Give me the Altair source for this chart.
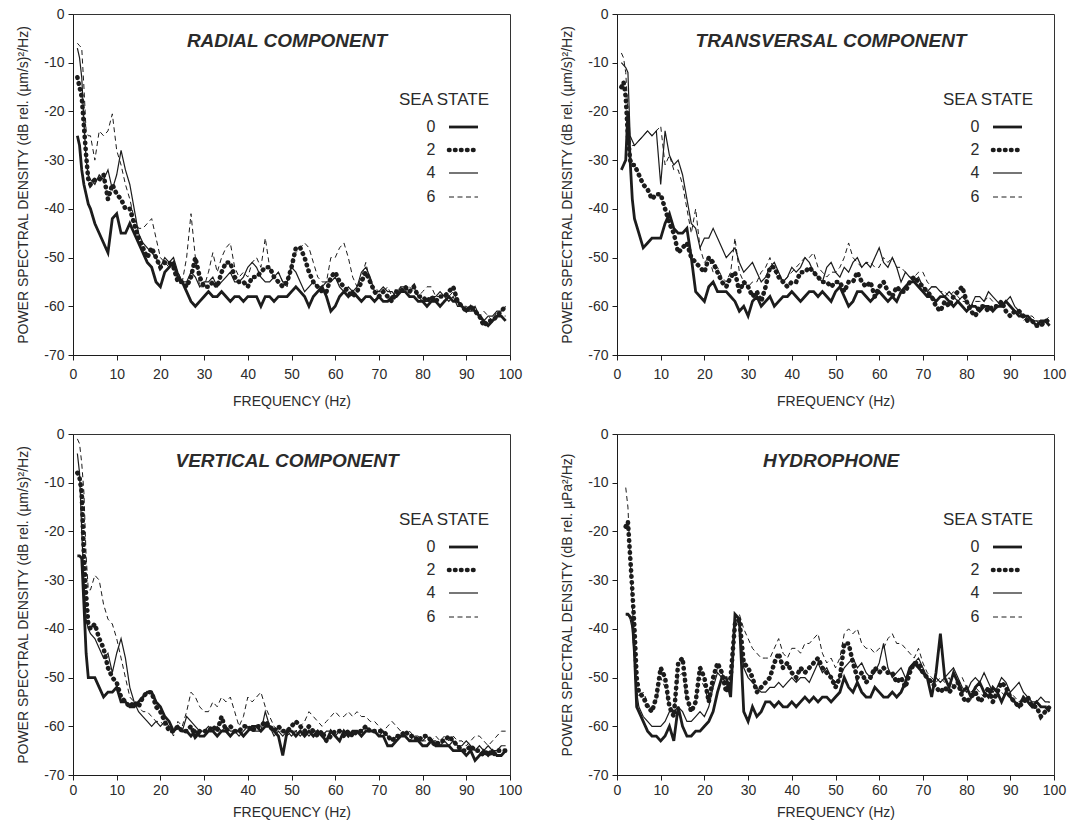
import altair as alt
import pandas as pd

# ---------------------------------------------------------------------------
# Frequency grids (Hz): finer sampling over the steep low-frequency roll-off
# ---------------------------------------------------------------------------
FREQ_GEO = [1, 1.5, 2, 2.5, 3, 3.5] + list(range(4, 100))
FREQ_HYD = [2, 2.5, 3, 3.5, 4, 4.5] + list(range(5, 100))

X_TICKS = [0, 10, 20, 30, 40, 50, 60, 70, 80, 90, 100]
Y_TICKS = [0, -10, -20, -30, -40, -50, -60, -70]
SEA_STATES = ["0", "2", "4", "6"]

# ---------------------------------------------------------------------------
# Power spectral density (dB) per sea state
# ---------------------------------------------------------------------------
RADIAL_0 = [-25, -27, -32, -35, -37, -39,
            -40, -43, -45, -47, -49, -42, -41, -45, -45, -43,
            -45, -47, -49, -51, -52, -55, -56, -53, -52, -51,
            -54, -55, -57, -59, -60, -59, -58, -57, -58, -58,
            -57, -58, -59, -58, -58, -59, -58, -58, -58, -60,
            -58, -58, -59, -58, -58, -58, -57, -56, -57, -58,
            -60, -58, -57, -56, -58, -61, -60, -58, -57, -58,
            -57, -58, -59, -58, -58, -59, -58, -59, -59, -58,
            -58, -57, -57, -58, -58, -59, -59, -60, -59, -59,
            -60, -59, -58, -59, -59, -60, -61, -60, -61, -62,
            -63, -64, -63, -62, -62, -63]
RADIAL_2 = [-13, -15, -17, -23, -29, -34,
            -35, -34, -34, -33, -38, -35, -37, -38, -40, -40,
            -43, -46, -48, -50, -48, -50, -52, -51, -51, -52,
            -55, -55, -56, -54, -50, -54, -56, -56, -55, -56,
            -53, -51, -51, -54, -55, -55, -56, -54, -54, -53,
            -52, -52, -54, -55, -56, -55, -52, -48, -48, -50,
            -53, -55, -56, -57, -57, -54, -53, -55, -56, -57,
            -58, -57, -55, -53, -55, -57, -58, -57, -58, -59,
            -57, -57, -56, -57, -56, -58, -58, -59, -58, -59,
            -58, -58, -57, -56, -59, -60, -61, -60, -61, -62,
            -64, -63, -63, -62, -61, -60]
RADIAL_4 = [-7, -9, -13, -22, -30, -33,
            -34, -35, -33, -34, -32, -36, -33, -28, -32, -35,
            -40, -45, -47, -48, -49, -50, -52, -50, -51, -50,
            -53, -55, -55, -53, -54, -56, -55, -55, -54, -56,
            -55, -54, -53, -55, -55, -54, -52, -51, -52, -54,
            -55, -55, -54, -53, -55, -55, -52, -53, -55, -57,
            -56, -55, -56, -56, -55, -55, -54, -56, -57, -56,
            -57, -56, -53, -52, -54, -57, -57, -56, -57, -57,
            -58, -56, -56, -57, -56, -58, -59, -59, -58, -58,
            -57, -58, -59, -58, -60, -60, -61, -61, -60, -62,
            -63, -62, -62, -61, -61, -60]
RADIAL_6 = [-6, -6.5, -7, -15, -24, -25,
            -25, -30, -24, -25, -24, -20.5, -28, -31, -35, -38,
            -42, -44, -44, -43, -42, -46, -50, -51, -52, -52,
            -53, -55, -50, -41, -50, -56, -56, -53, -49, -53,
            -50, -48, -47, -52, -54, -53, -54, -51, -50, -52,
            -46, -52, -54, -53, -55, -56, -51, -49, -48, -47,
            -48, -51, -54, -55, -55, -50, -50, -48, -47, -50,
            -54, -56, -54, -51, -55, -56, -57, -57, -56, -58,
            -57, -56, -57, -56, -57, -58, -57, -56, -56, -58,
            -58, -59, -58, -57, -59, -60, -60, -61, -61, -62,
            -61, -62, -63, -61, -62, -62]

TRANS_0 = [-32, -31, -30, -20, -30, -38,
           -42, -45, -48, -47, -46, -46, -46, -43, -41, -44,
           -45, -45, -44, -50, -57, -58, -59, -56, -55, -57,
           -57, -57, -58, -59, -61, -60, -62, -59, -58, -60,
           -59, -58, -60, -59, -58, -58, -57, -58, -59, -58,
           -57, -57, -58, -57, -58, -59, -57, -56, -58, -60,
           -59, -57, -57, -58, -59, -58, -57, -58, -59, -58,
           -59, -57, -56, -55, -55, -56, -57, -58, -58, -59,
           -58, -58, -59, -60, -59, -60, -61, -60, -60, -61,
           -60, -60, -61, -60, -60, -59, -60, -61, -62, -62,
           -62, -63, -64, -63, -63, -64]
TRANS_2 = [-15, -14, -17, -25, -30, -31,
           -31, -33, -35, -36, -38, -37, -37, -40, -43, -45,
           -49, -48, -47, -50, -51, -52, -53, -50, -51, -53,
           -55, -56, -54, -53, -57, -55, -56, -58, -57, -59,
           -56, -52, -52, -54, -55, -56, -55, -55, -53, -53,
           -52, -53, -54, -55, -55, -56, -55, -55, -57, -55,
           -55, -53, -55, -56, -55, -58, -56, -55, -57, -58,
           -56, -57, -57, -55, -54, -55, -56, -57, -58, -60,
           -61, -59, -60, -58, -57, -56, -59, -61, -62, -60,
           -60, -61, -60, -60, -59, -61, -62, -61, -61, -62,
           -63, -63, -64, -64, -63, -63]
TRANS_4 = [-10, -10.5, -11, -12, -25, -26,
           -27, -26, -25, -24, -25, -24, -35, -24, -29, -31,
           -30, -33, -38, -43, -44, -48, -46, -46, -44, -46,
           -48, -50, -49, -48, -51, -53, -52, -51, -53, -55,
           -54, -52, -51, -53, -55, -54, -52, -53, -52, -50,
           -51, -53, -54, -55, -52, -51, -53, -54, -52, -53,
           -51, -50, -52, -51, -52, -50, -48, -51, -52, -50,
           -52, -55, -53, -54, -55, -54, -56, -57, -56, -56,
           -57, -58, -57, -58, -59, -58, -59, -60, -58, -58,
           -59, -57, -58, -59, -60, -59, -58, -60, -61, -62,
           -62, -63, -63, -64, -63, -63]
TRANS_6 = [-8, -9, -12, -20, -26, -27,
           -27, -26, -25, -24, -25, -24, -23, -31, -29, -32,
           -32, -35, -40, -45, -40, -48, -51, -50, -53, -52,
           -54, -55, -53, -46, -53, -55, -56, -55, -55, -53,
           -52, -50, -53, -54, -55, -54, -53, -52, -51, -50,
           -50, -49, -52, -53, -54, -53, -53, -52, -50, -47,
           -50, -51, -52, -51, -51, -52, -52, -50, -51, -50,
           -52, -52, -53, -54, -54, -53, -53, -55, -56, -56,
           -57, -57, -58, -57, -58, -59, -59, -60, -59, -59,
           -59, -58, -59, -60, -60, -59, -60, -61, -61, -63,
           -62, -62, -63, -63, -63, -62]

VERT_0 = [-25, -25, -25.5, -35, -45, -50,
          -50, -50, -52, -54, -53, -53, -52, -55, -55, -56,
          -56, -55, -54, -53, -53, -55, -56, -58, -59, -61,
          -60, -61, -61, -62, -61, -62, -62, -61, -61, -62,
          -61, -61, -62, -61, -61, -62, -61, -60, -60, -61,
          -60, -60, -61, -62, -66, -61, -61, -62, -61, -62,
          -61, -62, -61, -62, -63, -61, -62, -63, -61, -62,
          -61, -61, -62, -61, -61, -61, -62, -62, -64, -64,
          -63, -62, -62, -63, -63, -63, -64, -64, -63, -64,
          -64, -64, -64, -65, -65, -65, -66, -65, -67, -66,
          -65, -66, -65, -66, -66, -65]
VERT_2 = [-8, -9, -12, -25, -33, -39,
          -40, -39, -42, -44, -48, -50, -51, -54, -55, -56,
          -55, -56, -54, -53, -53, -56, -57, -59, -61, -61,
          -60, -61, -61, -60, -62, -61, -61, -61, -60, -61,
          -58, -61, -60, -61, -61, -60, -60, -61, -60, -60,
          -59, -60, -61, -60, -61, -61, -60, -59, -60, -61,
          -60, -61, -62, -61, -63, -62, -61, -61, -62, -61,
          -62, -61, -61, -60, -61, -61, -61, -61, -62, -63,
          -62, -62, -61, -62, -62, -63, -62, -62, -63, -64,
          -63, -63, -62, -63, -64, -65, -65, -64, -65, -65,
          -66, -65, -66, -65, -65, -65]
VERT_4 = [-4, -8, -20, -30, -38, -40,
          -41, -42, -44, -46, -45, -49, -45, -42, -46, -52,
          -55, -57, -58, -59, -60, -59, -60, -59, -60, -61,
          -60, -61, -58, -59, -60, -61, -61, -60, -61, -60,
          -61, -60, -61, -61, -62, -61, -60, -61, -61, -61,
          -57, -60, -62, -61, -62, -61, -62, -61, -62, -61,
          -62, -61, -61, -62, -61, -61, -62, -61, -61, -62,
          -61, -61, -61, -60, -61, -61, -62, -61, -62, -63,
          -62, -62, -62, -63, -62, -63, -63, -62, -63, -63,
          -64, -63, -64, -63, -64, -64, -63, -64, -65, -64,
          -65, -64, -65, -65, -64, -64]
VERT_6 = [-1, -2, -6, -12, -25, -32,
          -32, -29, -30, -35, -38, -39, -42, -46, -50, -54,
          -55, -56, -57, -57, -58, -59, -59, -60, -60, -62,
          -59, -60, -57, -53, -54, -56, -57, -57, -55, -56,
          -54, -55, -54, -57, -60, -58, -54, -55, -54, -53,
          -56, -58, -60, -61, -61, -62, -61, -61, -60, -59,
          -57, -58, -59, -60, -59, -58, -57, -58, -58, -57,
          -58, -57, -58, -58, -59, -59, -60, -61, -60, -59,
          -60, -61, -62, -61, -62, -62, -63, -63, -63, -62,
          -63, -62, -63, -62, -63, -63, -64, -63, -62, -62,
          -63, -64, -63, -62, -61, -61]

HYD_0 = [-37, -37, -37.5, -38, -45, -56,
         -57, -59, -61, -62, -62, -63, -62, -60, -63, -56,
         -60, -62, -62, -61, -61, -60, -59, -57, -53, -50,
         -50, -54, -37, -38, -57, -59, -56, -58, -57, -55,
         -55, -56, -55, -56, -56, -55, -56, -55, -54, -55,
         -54, -55, -54, -54, -55, -54, -53, -50, -52, -53,
         -51, -53, -54, -54, -52, -53, -54, -54, -53, -54,
         -53, -51, -48, -47, -48, -49, -50, -54, -49, -41,
         -50, -52, -49, -51, -53, -52, -54, -52, -51, -53,
         -54, -52, -53, -55, -53, -54, -55, -56, -54, -55,
         -56, -55, -56, -56, -57]
HYD_2 = [-19, -18, -25, -32, -40, -50,
         -53, -54, -56, -57, -54, -48, -50, -56, -58, -47,
         -46, -54, -57, -55, -48, -50, -55, -50, -47, -49,
         -53, -50, -39, -38, -47, -48, -50, -53, -52, -51,
         -50, -47, -45, -48, -47, -49, -50, -48, -49, -48,
         -47, -46, -48, -49, -50, -52, -50, -43, -43, -47,
         -50, -49, -51, -50, -48, -49, -48, -49, -49, -51,
         -50, -52, -49, -47, -47, -49, -50, -51, -52, -53,
         -52, -53, -52, -51, -54, -55, -54, -53, -55, -54,
         -52, -55, -53, -51, -52, -54, -55, -56, -55, -54,
         -56, -56, -58, -57, -56]
HYD_4 = [-37, -37, -38, -40, -46, -53,
         -56, -58, -59, -60, -60, -60, -59, -57, -57, -56,
         -57, -59, -59, -58, -57, -58, -56, -52, -49, -50,
         -51, -52, -38, -39, -48, -50, -51, -52, -53, -53,
         -52, -52, -51, -52, -51, -50, -51, -50, -50, -51,
         -49, -47, -49, -48, -50, -51, -50, -48, -47, -46,
         -48, -47, -49, -50, -49, -47, -43, -48, -50, -49,
         -48, -50, -49, -47, -46, -48, -50, -51, -50, -51,
         -50, -49, -48, -50, -52, -53, -51, -50, -51, -49,
         -51, -53, -52, -50, -51, -53, -52, -51, -53, -54,
         -55, -55, -54, -55, -55]
HYD_6 = [-11, -15, -25, -35, -45, -53,
         -54, -53, -55, -57, -55, -50, -52, -56, -57, -50,
         -49, -55, -57, -55, -50, -52, -55, -51, -48, -49,
         -52, -50, -38, -37, -40, -42, -44, -45, -46, -46,
         -46, -44, -42, -45, -46, -44, -44, -45, -43, -43,
         -42, -41, -45, -47, -46, -48, -46, -41, -40, -41,
         -40, -43, -44, -44, -45, -44, -44, -42, -41, -43,
         -43, -44, -45, -46, -44, -47, -49, -50, -51, -50,
         -51, -50, -52, -51, -50, -52, -53, -52, -53, -54,
         -52, -53, -54, -53, -54, -53, -54, -55, -54, -55,
         -56, -55, -56, -56, -55]

GEO_YTITLE = "POWER SPECTRAL DENSITY (dB rel. (\u00b5m/s)\u00b2/Hz)"
HYD_YTITLE = "POWER SPECTRAL DENSITY (dB rel. \u00b5Pa\u00b2/Hz)"

PANELS = [
    ("RADIAL COMPONENT", GEO_YTITLE, FREQ_GEO,
     {"0": RADIAL_0, "2": RADIAL_2, "4": RADIAL_4, "6": RADIAL_6}),
    ("TRANSVERSAL COMPONENT", GEO_YTITLE, FREQ_GEO,
     {"0": TRANS_0, "2": TRANS_2, "4": TRANS_4, "6": TRANS_6}),
    ("VERTICAL COMPONENT", GEO_YTITLE, FREQ_GEO,
     {"0": VERT_0, "2": VERT_2, "4": VERT_4, "6": VERT_6}),
    ("HYDROPHONE", HYD_YTITLE, FREQ_HYD,
     {"0": HYD_0, "2": HYD_2, "4": HYD_4, "6": HYD_6}),
]

# ---------------------------------------------------------------------------
# Styling
# ---------------------------------------------------------------------------
INK = "#1c1c1c"
TEXT = "#2b2b2b"
FONT = "Liberation Sans"
PANEL_W, PANEL_H = 437, 341

LINE_STYLE = {
    "0": dict(strokeWidth=2.8),
    "2": dict(strokeWidth=4.6, strokeDash=[0.5, 5.5], strokeCap="round"),
    "4": dict(strokeWidth=1.2),
    "6": dict(strokeWidth=1.0, strokeDash=[5, 3.5]),
}
DRAW_ORDER = ["6", "4", "0", "2"]
LEGEND_ROW_Y = {"0": 113, "2": 136, "4": 159, "6": 183}

# x-axis label / title spacing for the upper and lower rows
X_PAD_TOP = dict(labelPadding=7, titlePadding=13)
X_PAD_BOTTOM = dict(labelPadding=3, titlePadding=8)


def make_panel(title, ytitle, freq, series, x_pad):
    x_enc = alt.X(
        "f:Q",
        scale=alt.Scale(domain=[0, 100], nice=False, zero=False),
        axis=alt.Axis(title="FREQUENCY (Hz)", values=X_TICKS,
                      labelExpr="datum.value + ''", labelFlush=False,
                      **x_pad),
    )
    y_enc = alt.Y(
        "v:Q",
        scale=alt.Scale(domain=[-70, 0], nice=False, zero=False),
        axis=alt.Axis(title=ytitle, values=Y_TICKS,
                      labelExpr="datum.value + ''", labelFlush=False,
                      labelPadding=4, titlePadding=13),
    )

    layers = []
    for state in DRAW_ORDER:
        df = pd.DataFrame({"f": freq, "v": series[state]})
        layers.append(
            alt.Chart(df)
            .mark_line(color=INK, clip=True, **LINE_STYLE[state])
            .encode(x=x_enc, y=y_enc)
        )

    # panel heading
    layers.append(
        alt.Chart(pd.DataFrame({"t": [title]}))
        .mark_text(font=FONT, fontSize=19, fontWeight="bold", fontStyle="italic",
                   color=TEXT, align="center", baseline="middle")
        .encode(x=alt.value(214), y=alt.value(27), text="t:N")
    )

    # hand-drawn style key
    layers.append(
        alt.Chart(pd.DataFrame({"t": ["SEA STATE"]}))
        .mark_text(font=FONT, fontSize=17, color=TEXT, align="center",
                   baseline="middle")
        .encode(x=alt.value(371), y=alt.value(86), text="t:N")
    )
    for state in SEA_STATES:
        row = LEGEND_ROW_Y[state]
        key_df = pd.DataFrame({"t": [state]})
        layers.append(
            alt.Chart(key_df)
            .mark_text(font=FONT, fontSize=16, color=TEXT, align="center",
                       baseline="middle")
            .encode(x=alt.value(358), y=alt.value(row), text="t:N")
        )
        layers.append(
            alt.Chart(key_df)
            .mark_rule(color=INK, **LINE_STYLE[state])
            .encode(x=alt.value(376), x2=alt.value(405), y=alt.value(row))
        )

    return alt.layer(*layers).properties(width=PANEL_W, height=PANEL_H)


panels = [
    make_panel(*p, x_pad=(X_PAD_TOP if i < 2 else X_PAD_BOTTOM))
    for i, p in enumerate(PANELS)
]

top = alt.hconcat(panels[0], panels[1], spacing=37)
bottom = alt.hconcat(panels[2], panels[3], spacing=37)

chart = (
    alt.vconcat(top, bottom, spacing=17)
    .properties(padding={"left": 16, "top": 6, "right": 5, "bottom": 5},
                background="white")
    .configure_view(stroke="#333333", strokeWidth=1)
    .configure_axis(
        grid=False,
        domainColor=INK,
        tickColor=INK,
        tickSize=5,
        labelColor=TEXT,
        titleColor=TEXT,
        labelFont=FONT,
        titleFont=FONT,
        labelFontSize=14,
        titleFontSize=14,
        titleFontWeight="normal",
    )
)

chart.save("out.html", embed_options={"renderer": "svg", "actions": False})
